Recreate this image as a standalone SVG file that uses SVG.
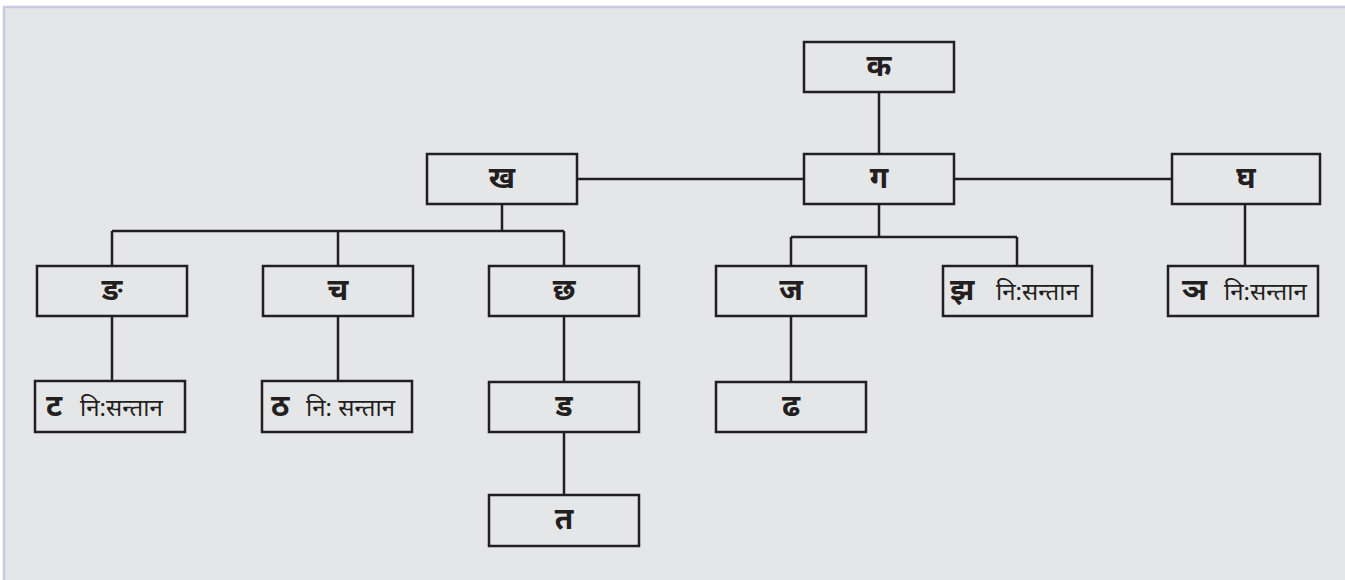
<svg xmlns="http://www.w3.org/2000/svg" width="1345" height="580" viewBox="0 0 1345 580">
<style>
.box{fill:none;stroke:#231f20;stroke-width:2.5}
.ln{fill:none;stroke:#231f20;stroke-width:2.5}
.t{font-family:"Noto Sans","Liberation Sans",sans-serif;font-size:30px;font-weight:bold;fill:#231f20;text-anchor:middle}
.l{text-anchor:start}
.s{font-family:"Noto Sans","Liberation Sans",sans-serif;font-size:24px;font-weight:normal;fill:#231f20}
</style>
<rect x="0" y="0" width="1345" height="580" fill="#ffffff"/>
<rect x="3" y="6" width="1342" height="574" fill="#e5e6e8"/>
<path d="M3 7H1345M4 6V580" stroke="#c8c8e4" stroke-width="2.5" fill="none"/>
<g id="connectors">
<path class="ln" d="M879 92V154M577 179H804M954 179H1172"/>
<path class="ln" d="M502 204V231M112 231H564M112 231V266M338 231V266M564 231V266"/>
<path class="ln" d="M879 204V237M791 237H1017M791 237V266M1017 237V266"/>
<path class="ln" d="M1245 204V266"/>
<path class="ln" d="M112 316V381M338 316V381M564 316V381M791 316V381M564 432V495"/>
</g>
<g id="n-ka"><rect class="box" x="804" y="42" width="150" height="50"/><text class="t" x="879" y="76">क</text></g>
<g id="n-kha"><rect class="box" x="427" y="154" width="150" height="50"/><text class="t" x="502" y="188">ख</text></g>
<g id="n-ga"><rect class="box" x="804" y="154" width="150" height="50"/><text class="t" x="879" y="188">ग</text></g>
<g id="n-gha"><rect class="box" x="1172" y="154" width="148" height="50"/><text class="t" x="1246" y="188">घ</text></g>
<g id="n-nga"><rect class="box" x="37" y="266" width="150" height="50"/><text class="t" x="112" y="300">ङ</text></g>
<g id="n-ca"><rect class="box" x="263" y="266" width="150" height="50"/><text class="t" x="338" y="300">च</text></g>
<g id="n-cha"><rect class="box" x="489" y="266" width="150" height="50"/><text class="t" x="564" y="300">छ</text></g>
<g id="n-ja"><rect class="box" x="716" y="266" width="150" height="50"/><text class="t" x="791" y="300">ज</text></g>
<g id="n-jha"><rect class="box" x="943" y="266" width="149" height="50"/><text class="t l" x="950" y="300">झ</text><text class="s" x="996" y="300">नि:सन्तान</text></g>
<g id="n-nya"><rect class="box" x="1168" y="266" width="150" height="50"/><text class="t l" x="1182" y="300">ञ</text><text class="s" x="1224" y="300">नि:सन्तान</text></g>
<g id="n-tta"><rect class="box" x="35" y="381" width="150" height="51"/><text class="t l" x="46" y="416">ट</text><text class="s" x="80" y="416">नि:सन्तान</text></g>
<g id="n-ttha"><rect class="box" x="262" y="381" width="150" height="51"/><text class="t l" x="271" y="416">ठ</text><text class="s" x="306" y="416">नि: सन्तान</text></g>
<g id="n-dda"><rect class="box" x="489" y="382" width="150" height="50"/><text class="t" x="564" y="416">ड</text></g>
<g id="n-ddha"><rect class="box" x="716" y="382" width="150" height="50"/><text class="t" x="791" y="416">ढ</text></g>
<g id="n-ta"><rect class="box" x="489" y="495" width="150" height="51"/><text class="t" x="564" y="529">त</text></g>
</svg>
